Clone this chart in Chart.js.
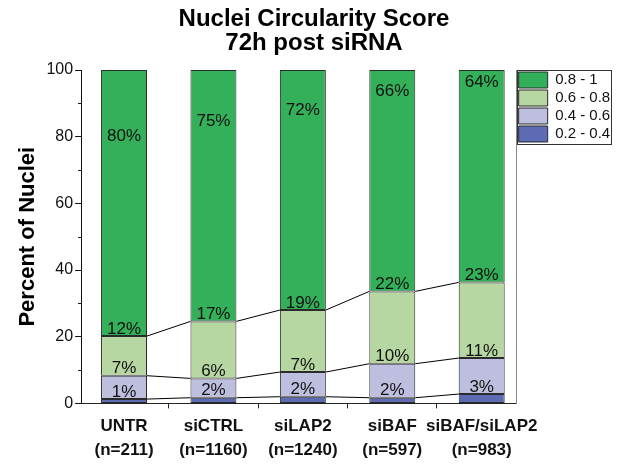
<!DOCTYPE html>
<html><head><meta charset="utf-8">
<script src="https://cdn.jsdelivr.net/npm/chart.js@4"></script>
<style>html,body{margin:0;padding:0;background:#fff}#wrap{width:624px;height:468px}</style>
</head><body><div id="wrap"><canvas id="c" width="624" height="468"></canvas></div>
<script>
const categories = ['UNTR', 'siCTRL', 'siLAP2', 'siBAF', 'siBAF/siLAP2'];
const sampleSizes = ['(n=211)', '(n=1160)', '(n=1240)', '(n=597)', '(n=983)'];
const seriesNames = ['0.2 - 0.4', '0.4 - 0.6', '0.6 - 0.8', '0.8 - 1'];
const score02to04 = [1.3, 1.7, 2.0, 1.7, 2.8];
const score04to06 = [7.0, 5.8, 7.4, 10.2, 10.8];
const score06to08 = [11.9, 17.1, 18.6, 21.7, 22.7];
const score08to1 = [79.8, 75.4, 72.0, 66.4, 63.7];
const yTicks = [0, 20, 40, 60, 80, 100];
const yMinorTicks = [10, 30, 50, 70, 90];
const seriesColors = ['#5C6BB3', '#BEBFDF', '#B6D7A1', '#35B05A'];

const SANS = '"Liberation Sans", Arial, sans-serif';

const series = [score02to04, score04to06, score06to08, score08to1];
const datasets = series.map((vals, k) => ({
  label: seriesNames[k],
  data: vals.map((v, i) => ({ x: i, y: v })),
  backgroundColor: seriesColors[k],
  borderColor: '#2b2b2b',
  borderWidth: 1,
  borderSkipped: false,
  barPercentage: 0.514,
  categoryPercentage: 1,
  yAxisID: 'y'
}));

const annot = {
  id: 'annot',
  afterDatasetsDraw(chart) {
    const ctx = chart.ctx;
    const y = chart.scales.y;
    const metas = chart.data.datasets.map((d, k) => chart.getDatasetMeta(k));
    ctx.save();
    ctx.strokeStyle = '#000';
    ctx.lineWidth = 1;
    for (let k = 0; k < metas.length - 1; k++) {
      const bars = metas[k].data;
      for (let i = 0; i < bars.length - 1; i++) {
        const a = bars[i], b = bars[i + 1];
        ctx.beginPath();
        ctx.moveTo(a.x + a.width / 2, a.y);
        ctx.lineTo(b.x - b.width / 2, b.y);
        ctx.stroke();
      }
    }
    ctx.fillStyle = '#111';
    ctx.font = '17px ' + SANS;
    ctx.textAlign = 'center';
    metas.forEach((m, k) => {
      const vals = series[k];
      m.data.forEach((bar, i) => {
        const txt = Math.round(vals[i]) + '%';
        if (k === metas.length - 1) {
          const base = y.getValueForPixel(bar.base);
          ctx.textBaseline = 'middle';
          ctx.fillText(txt, bar.x, y.getPixelForValue(base + 60));
        } else {
          ctx.textBaseline = 'alphabetic';
          ctx.fillText(txt, bar.x, bar.y - 2.5);
        }
      });
    });
    ctx.restore();
  },
  afterDraw(chart) {
    const ctx = chart.ctx;
    const y = chart.scales.y;
    ctx.save();
    ctx.strokeStyle = '#111';
    ctx.lineWidth = 1;
    yMinorTicks.forEach(v => {
      const p = Math.round(y.getPixelForValue(v)) + 0.5;
      ctx.beginPath();
      ctx.moveTo(y.right - 3, p);
      ctx.lineTo(y.right, p);
      ctx.stroke();
    });
    const lg = chart.legend;
    const hb = lg.legendHitBoxes;
    if (hb && hb.length) {
      const left = Math.round(lg.left) + 0.5;
      const top = Math.round(lg.top) + 0.5;
      const right = Math.round(Math.max(...hb.map(h => h.left + h.width)) + 1) + 0.5;
      const bottom = Math.round(Math.max(...hb.map(h => h.top + h.height)) + 2) + 0.5;
      ctx.strokeStyle = '#333';
      ctx.strokeRect(left, top, right - left, bottom - top);
    }
    ctx.restore();
  }
};

new Chart(document.getElementById('c'), {
  type: 'bar',
  data: { datasets },
  plugins: [annot],
  options: {
    responsive: false,
    animation: false,
    layout: { padding: { left: 10, right: 6, top: 0, bottom: 0 } },
    plugins: {
      title: {
        display: true,
        text: ['Nuclei Circularity Score', '72h post siRNA'],
        color: '#000',
        font: { family: SANS, size: 24, weight: 'bold', lineHeight: 1.0 },
        padding: { top: 7, bottom: 15 }
      },
      legend: {
        position: 'right',
        align: 'start',
        reverse: true,
        fullSize: false,
        labels: {
          boxWidth: 29, boxHeight: 16, padding: 2, color: '#111',
          font: { family: SANS, size: 15 }
        }
      },
      tooltip: { enabled: false }
    },
    scales: {
      x: {
        type: 'linear', min: -0.48, max: 4.391, stacked: true, offset: false,
        afterBuildTicks: s => { s.ticks = categories.map((c, i) => ({ value: i })); },
        ticks: {
          callback: v => [categories[v], sampleSizes[v]],
          color: '#111',
          font: { family: SANS, size: 17, weight: 'bold', lineHeight: 1.4 },
          padding: 6, maxRotation: 0, autoSkip: false
        },
        grid: { drawOnChartArea: false, tickLength: 5, tickColor: '#222', tickWidth: 1 },
        border: { color: '#222', width: 1 }
      },
      y: {
        min: 0, max: 100, stacked: true,
        afterBuildTicks: s => { s.ticks = yTicks.map(v => ({ value: v })); },
        ticks: { color: '#111', font: { family: SANS, size: 16 }, padding: 2 },
        grid: { drawOnChartArea: false, tickLength: 6, tickColor: '#111', tickWidth: 1 },
        border: { color: '#111', width: 1 },
        title: {
          display: true, text: 'Percent of Nuclei', color: '#000',
          font: { family: SANS, size: 22, weight: 'bold', lineHeight: 1.2 },
          padding: { top: 5, bottom: 3 }
        }
      },
      y2: {
        position: 'right', min: 0, max: 100,
        ticks: { display: false },
        grid: { display: false, drawOnChartArea: false, drawTicks: false },
        border: { display: true, color: '#888', width: 1 }
      }
    }
  }
});
</script></body></html>
